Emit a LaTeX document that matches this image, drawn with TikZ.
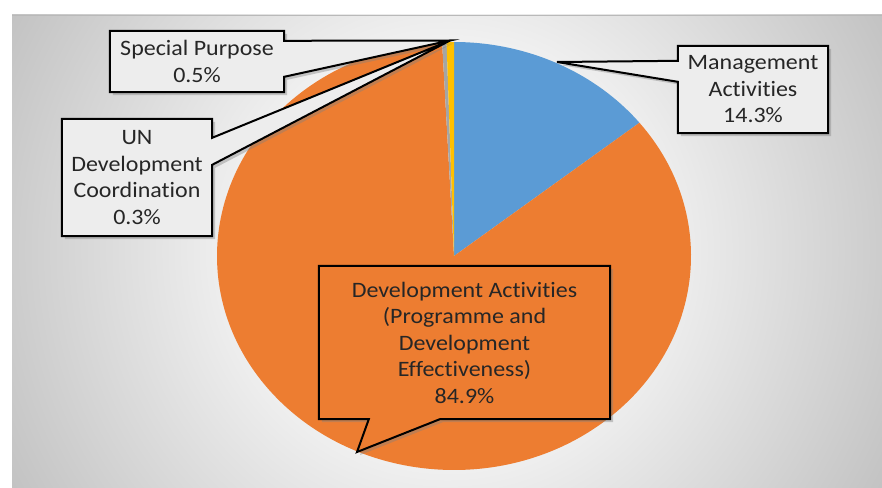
\documentclass[tikz,border=0pt]{standalone}
\usepackage{fontspec}
\setmainfont{Carlito}[FakeStretch=1.09, Ligatures={NoCommon}]
\usetikzlibrary{shadows,calc}
\definecolor{pieblue}{HTML}{5B9BD5}
\definecolor{pieorange}{HTML}{ED7D31}
\definecolor{piegray}{HTML}{A5A5A5}
\definecolor{pieyellow}{HTML}{FFC000}
\definecolor{bgout}{HTML}{C2C2C2}
\definecolor{boxfill}{HTML}{EDEDED}
\definecolor{txt}{HTML}{262626}
\pgfdeclareradialshading{bgshade}{\pgfpoint{0bp}{0bp}}{color(0bp)=(white); color(6bp)=(white); color(25bp)=(bgout); color(50bp)=(bgout)}
\pgfdeclarelayer{back}
\pgfdeclarelayer{mid}
\pgfsetlayers{back,mid,main}
\begin{document}
\begin{tikzpicture}[x=1pt,y=-1pt,
  lbl/.style={font=\fontsize{22}{26.5}\selectfont, text=txt, align=center, inner sep=0pt},
  callout/.style={draw=black, line width=2pt, line join=miter, fill=boxfill,
    drop shadow={shadow xshift=3pt, shadow yshift=-3pt, opacity=0.4}},
]
\useasboundingbox (0,0) rectangle (882,487);

% text nodes
\node[lbl, minimum width=174pt, minimum height=61pt] (sp) at (197,61.5) {Special Purpose\\0.5\%};
\node[lbl, minimum width=150pt, minimum height=117pt] (un) at (137,177.5) {UN\\Development\\Coordination\\0.3\%};
\node[lbl, minimum width=150pt, minimum height=87pt] (ma) at (753,89.5) {Management\\Activities\\14.3\%};
\node[lbl, minimum width=291pt, minimum height=153pt] (da) at (464.5,342.5) {Development Activities\\(Programme and\\Development\\Effectiveness)\\84.9\%};

\coordinate (C) at (454,256);
\coordinate (tipTop) at (450,40.5);
\coordinate (tipMA) at (557,62);
\coordinate (tipDA) at (357,452);

\begin{pgfonlayer}{back}
  \fill[white] (0,0) rectangle (882,487);
  \begin{scope}
    \clip (12,15) rectangle (882,487);
    \shade[shading=bgshade] (447,251) circle[radius=500pt];
  \end{scope}
  \draw[gray!55, line width=0.8pt] (12,15.4) -- (882,15.4);
  % pie
  \fill[pieblue] (C) -- ($(C)+(90:237pt and 214pt)$) arc[start angle=90, end angle=38.52, x radius=237pt, y radius=214pt] -- cycle;
  \fill[pieorange] (C) -- ($(C)+(38.52:237pt and 214pt)$) arc[start angle=38.52, end angle=-267.12, x radius=237pt, y radius=214pt] -- cycle;
  \fill[piegray] (C) -- ($(C)+(-267.12:237pt and 214pt)$) arc[start angle=-267.12, end angle=-268.2, x radius=237pt, y radius=214pt] -- cycle;
  \fill[pieyellow] (C) -- ($(C)+(-268.2:237pt and 214pt)$) arc[start angle=-268.2, end angle=-270, x radius=237pt, y radius=214pt] -- cycle;
\end{pgfonlayer}

\begin{pgfonlayer}{mid}
  \draw[callout] (sp.north west) -- (sp.north east) -- ($(sp.north east)+(0,10)$) -- (tipTop)
     -- ($(sp.north east)+(0,46)$) -- (sp.south east) -- (sp.south west) -- cycle;
  \draw[callout] (un.north west) -- (un.north east) -- ($(un.north east)+(0,19)$) -- (tipTop)
     -- ($(un.north east)+(0,46)$) -- (un.south east) -- (un.south west) -- cycle;
  \draw[callout] (ma.north west) -- (ma.north east) -- (ma.south east) -- (ma.south west)
     -- ($(ma.north west)+(0,36)$) -- (tipMA) -- ($(ma.north west)+(0,15)$) -- cycle;
  \draw[callout, fill=pieorange] (da.north west) -- (da.north east) -- (da.south east)
     -- ($(da.south west)+(121,0)$) -- (tipDA) -- ($(da.south west)+(50,0)$) -- (da.south west) -- cycle;
\end{pgfonlayer}
\end{tikzpicture}
\end{document}
